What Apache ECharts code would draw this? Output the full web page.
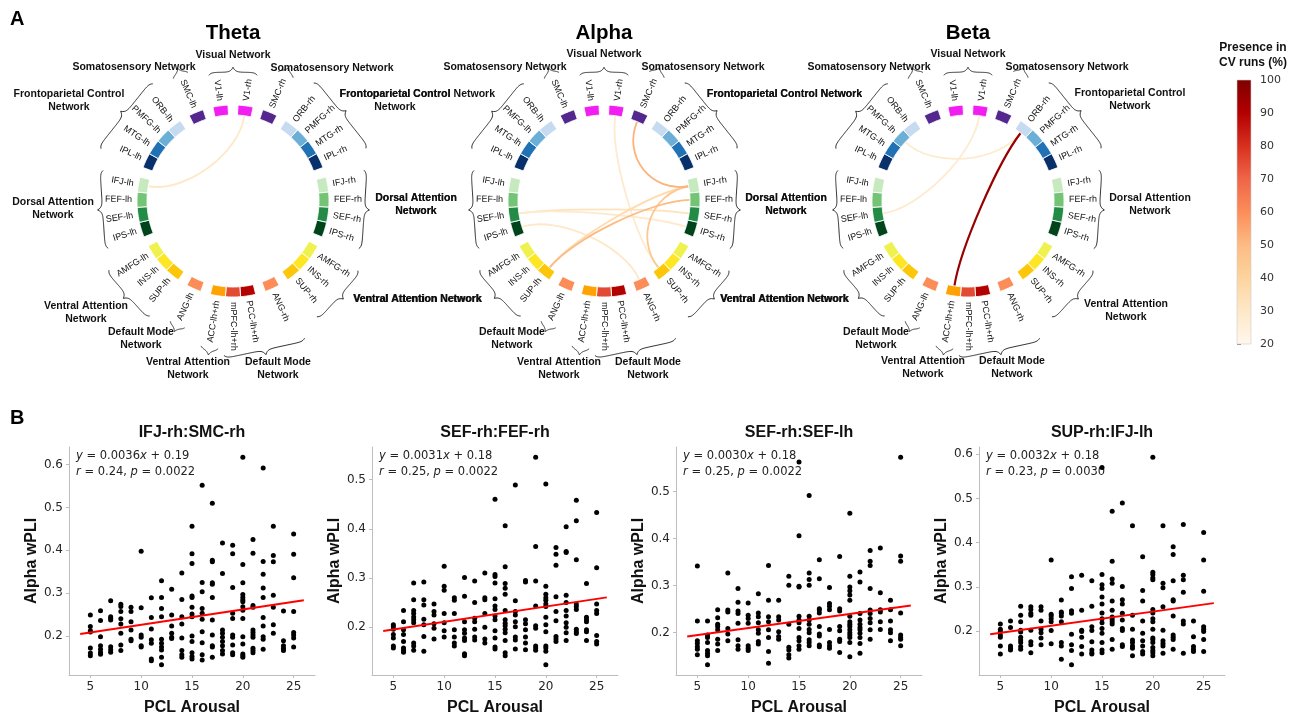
<!DOCTYPE html>
<html>
<head>
<meta charset="utf-8">
<script src="https://cdn.jsdelivr.net/npm/echarts@6/dist/echarts.min.js"></script>
<style>
  html, body { margin: 0; padding: 0; background: #fff; }
  #chart { width: 1301px; height: 718px; }
</style>
</head>
<body>
<div id="chart"></div>
<script>
// ---------------- Connectivity circles (panel A) ----------------
// Nodes clockwise from the top, split into hemisphere/network blocks.
const nodeBlocks = [
  ['V1-rh'], ['SMC-rh'],
  ['ORB-rh', 'PMFG-rh', 'MTG-rh', 'IPL-rh'],
  ['IFJ-rh', 'FEF-rh', 'SEF-rh', 'IPS-rh'],
  ['AMFG-rh', 'INS-rh', 'SUP-rh'],
  ['ANG-rh'],
  ['PCC-lh+rh', 'mPFC-lh+rh', 'ACC-lh+rh'],
  ['ANG-lh'],
  ['SUP-lh', 'INS-lh', 'AMFG-lh'],
  ['IPS-lh', 'SEF-lh', 'FEF-lh', 'IFJ-lh'],
  ['IPL-lh', 'MTG-lh', 'PMFG-lh', 'ORB-lh'],
  ['SMC-lh'], ['V1-lh']
];

const nodeColors = {
  'V1': '#f01ef0', 'SMC': '#54278f',
  'ORB': '#c6dbef', 'PMFG': '#6baed6', 'MTG': '#2171b5', 'IPL': '#08306b',
  'IFJ': '#c7e9c0', 'FEF': '#74c476', 'SEF': '#238b45', 'IPS': '#00441b',
  'AMFG': '#eef14e', 'INS': '#fde725', 'SUP': '#fcc70a',
  'ANG': '#fc8d59', 'ACC': '#ffa303', 'mPFC': '#e34a33', 'PCC': '#b30000'
};

// Bracketed networks, clockwise from the top
const networkNames = [
  'Visual Network', 'Somatosensory Network', 'Frontoparietal Control Network',
  'Dorsal Attention Network', 'Ventral Attention Network', 'Default Mode Network',
  'Ventral Attention Network', 'Default Mode Network', 'Ventral Attention Network',
  'Dorsal Attention Network', 'Frontoparietal Control Network', 'Somatosensory Network'
];
const networkMembers = [
  ['V1-lh', 'V1-rh'], ['SMC-rh'],
  ['ORB-rh', 'PMFG-rh', 'MTG-rh', 'IPL-rh'],
  ['IFJ-rh', 'FEF-rh', 'SEF-rh', 'IPS-rh'],
  ['AMFG-rh', 'INS-rh', 'SUP-rh'],
  ['ANG-rh', 'PCC-lh+rh', 'mPFC-lh+rh'],
  ['ACC-lh+rh'], ['ANG-lh'],
  ['SUP-lh', 'INS-lh', 'AMFG-lh'],
  ['IPS-lh', 'SEF-lh', 'FEF-lh', 'IFJ-lh'],
  ['IPL-lh', 'MTG-lh', 'PMFG-lh', 'ORB-lh'],
  ['SMC-lh']
];

const bandNames = ['Theta', 'Alpha', 'Beta'];

// Edges: [node, node, presence in CV runs (%)]
const edgesTheta = [
  ['V1-rh', 'IFJ-lh', 30]
];
const edgesAlpha = [
  ['V1-rh', 'SUP-rh', 28],
  ['IPS-lh', 'ANG-rh', 30],
  ['SEF-lh', 'SEF-rh', 33],
  ['SEF-lh', 'IPS-rh', 28],
  ['IFJ-rh', 'SUP-lh', 36],
  ['IFJ-rh', 'SUP-rh', 45],
  ['FEF-rh', 'SUP-lh', 50],
  ['SMC-rh', 'IFJ-rh', 52]
];
const edgesBeta = [
  ['V1-rh', 'SEF-lh', 28],
  ['ORB-rh', 'PMFG-lh', 28],
  ['ORB-rh', 'ACC-lh+rh', 95]
];

// Colour scale (OrRd) and its ticks
const presenceScale = ['#fff7ec', '#fee8c8', '#fdd49e', '#fdbb84', '#fc8d59', '#ef6548', '#d7301f', '#b30000', '#7f0000'];
const presenceRange = [20, 100];
const presenceTicks = [20, 30, 40, 50, 60, 70, 80, 90, 100];

// ---------------- Scatter plots (panel B) ----------------
const pclArousal = [5, 6, 7, 8, 9, 10, 11, 12, 13, 14, 15, 16, 17, 18, 19, 20, 21, 22, 23, 24, 25];

const wpliIfjRhSmcRh = [
  [0.249, 0.222, 0.212, 0.209, 0.172, 0.160, 0.154],
  [0.259, 0.236, 0.198, 0.177, 0.169, 0.162, 0.157],
  [0.282, 0.245, 0.241, 0.237, 0.175, 0.168, 0.162],
  [0.274, 0.269, 0.257, 0.240, 0.228, 0.206, 0.179, 0.166],
  [0.267, 0.257, 0.233, 0.214, 0.192, 0.189],
  [0.398, 0.266, 0.202, 0.197, 0.177, 0.174],
  [0.289, 0.243, 0.216, 0.191, 0.183, 0.146, 0.142],
  [0.329, 0.290, 0.264, 0.245, 0.192, 0.183, 0.174, 0.167, 0.150, 0.133],
  [0.309, 0.249, 0.223, 0.206, 0.197, 0.194],
  [0.347, 0.285, 0.245, 0.228, 0.195, 0.166, 0.156, 0.150],
  [0.456, 0.392, 0.369, 0.293, 0.290, 0.267, 0.251, 0.245, 0.200, 0.187, 0.161, 0.152, 0.146],
  [0.552, 0.325, 0.303, 0.264, 0.253, 0.239, 0.210, 0.184, 0.156, 0.144],
  [0.510, 0.377, 0.373, 0.324, 0.321, 0.290, 0.237, 0.202, 0.177, 0.174, 0.150],
  [0.417, 0.346, 0.214, 0.206, 0.197, 0.187, 0.177, 0.166, 0.158],
  [0.412, 0.392, 0.313, 0.253, 0.241, 0.202, 0.197, 0.179, 0.161, 0.156],
  [0.617, 0.367, 0.324, 0.297, 0.290, 0.284, 0.280, 0.268, 0.260, 0.241, 0.198, 0.181, 0.158, 0.154, 0.150],
  [0.425, 0.393, 0.271, 0.267, 0.214, 0.208, 0.202, 0.197, 0.171, 0.166, 0.161],
  [0.592, 0.374, 0.344, 0.312, 0.290, 0.243, 0.223, 0.198, 0.192, 0.169],
  [0.456, 0.388, 0.373, 0.295, 0.267, 0.226, 0.206],
  [0.258, 0.189, 0.177, 0.171, 0.166],
  [0.438, 0.391, 0.336, 0.257, 0.208, 0.202, 0.195, 0.174]
];

const wpliSefRhFefRh = [
  [0.205, 0.201, 0.196, 0.185, 0.178, 0.162, 0.158],
  [0.234, 0.211, 0.195, 0.185, 0.171, 0.158, 0.153, 0.149],
  [0.290, 0.256, 0.234, 0.228, 0.221, 0.215, 0.209, 0.168, 0.162, 0.153],
  [0.292, 0.256, 0.245, 0.216, 0.205, 0.181, 0.151],
  [0.247, 0.232, 0.225, 0.207, 0.198, 0.176],
  [0.324, 0.283, 0.275, 0.228, 0.209, 0.193, 0.180],
  [0.260, 0.255, 0.228, 0.195, 0.180, 0.168, 0.162],
  [0.301, 0.263, 0.211, 0.195, 0.188, 0.178, 0.173, 0.146, 0.142],
  [0.294, 0.250, 0.218, 0.211, 0.196, 0.180, 0.174],
  [0.310, 0.260, 0.256, 0.228, 0.200, 0.176, 0.168],
  [0.460, 0.307, 0.303, 0.290, 0.258, 0.243, 0.236, 0.223, 0.215, 0.193, 0.178, 0.160, 0.156],
  [0.406, 0.323, 0.289, 0.279, 0.267, 0.234, 0.215, 0.208, 0.203, 0.196, 0.189, 0.173, 0.148, 0.142],
  [0.489, 0.254, 0.232, 0.225, 0.211, 0.201, 0.180, 0.174, 0.156],
  [0.295, 0.292, 0.215, 0.207, 0.195, 0.180, 0.168, 0.154],
  [0.545, 0.364, 0.294, 0.243, 0.203, 0.198, 0.162, 0.158, 0.153],
  [0.491, 0.283, 0.267, 0.260, 0.255, 0.247, 0.242, 0.220, 0.205, 0.191, 0.162, 0.158, 0.151, 0.124],
  [0.362, 0.348, 0.326, 0.262, 0.232, 0.213, 0.181, 0.176, 0.171],
  [0.404, 0.354, 0.352, 0.265, 0.250, 0.234, 0.223, 0.209, 0.200, 0.189, 0.173],
  [0.458, 0.416, 0.337, 0.247, 0.242, 0.236, 0.196, 0.191, 0.187],
  [0.289, 0.220, 0.215, 0.211, 0.195, 0.191, 0.173],
  [0.433, 0.321, 0.247, 0.234, 0.228, 0.183, 0.171, 0.166]
];

const wpliSefRhSefLh = [
  [0.342, 0.225, 0.183, 0.177, 0.170, 0.165, 0.153],
  [0.225, 0.195, 0.190, 0.179, 0.162, 0.156, 0.151, 0.132],
  [0.249, 0.232, 0.218, 0.213, 0.206, 0.186, 0.176, 0.162],
  [0.327, 0.248, 0.244, 0.209, 0.197, 0.183],
  [0.294, 0.265, 0.246, 0.241, 0.220, 0.185, 0.172, 0.165],
  [0.263, 0.237, 0.230, 0.220, 0.172, 0.167, 0.162],
  [0.283, 0.242, 0.234, 0.221, 0.206, 0.199, 0.181, 0.176],
  [0.343, 0.269, 0.234, 0.223, 0.206, 0.190, 0.160, 0.135],
  [0.269, 0.234, 0.227, 0.202, 0.192, 0.186],
  [0.320, 0.301, 0.218, 0.169, 0.163, 0.153, 0.146],
  [0.563, 0.406, 0.299, 0.297, 0.235, 0.227, 0.221, 0.209, 0.190, 0.183, 0.172, 0.165],
  [0.492, 0.327, 0.313, 0.301, 0.235, 0.227, 0.218, 0.207, 0.200, 0.185, 0.179, 0.172],
  [0.355, 0.315, 0.251, 0.248, 0.242, 0.213, 0.197, 0.193, 0.174, 0.170],
  [0.296, 0.262, 0.256, 0.249, 0.207, 0.179, 0.172, 0.167],
  [0.362, 0.251, 0.246, 0.213, 0.204, 0.186, 0.181, 0.158],
  [0.454, 0.320, 0.297, 0.289, 0.280, 0.269, 0.235, 0.223, 0.218, 0.213, 0.206, 0.200, 0.195, 0.190, 0.179, 0.149],
  [0.329, 0.308, 0.241, 0.227, 0.218, 0.211, 0.206, 0.199, 0.190, 0.177, 0.156],
  [0.375, 0.352, 0.343, 0.294, 0.248, 0.241, 0.230, 0.221, 0.206, 0.186],
  [0.380, 0.285, 0.249, 0.244, 0.223, 0.207],
  [0.269, 0.249, 0.225, 0.206, 0.200, 0.183],
  [0.573, 0.363, 0.352, 0.242, 0.195, 0.190, 0.186, 0.172]
];

const wpliSupRhIfjLh = [
  [0.216, 0.204, 0.199, 0.191, 0.186, 0.166, 0.148],
  [0.223, 0.208, 0.166, 0.161, 0.157],
  [0.256, 0.236, 0.221, 0.202, 0.198, 0.186, 0.180, 0.174, 0.165, 0.159],
  [0.255, 0.249, 0.240, 0.236, 0.202, 0.176, 0.169, 0.151],
  [0.255, 0.247, 0.223, 0.204, 0.196, 0.184, 0.169],
  [0.361, 0.238, 0.234, 0.228, 0.221, 0.201, 0.171],
  [0.270, 0.243, 0.240, 0.234, 0.221, 0.174, 0.166, 0.136],
  [0.323, 0.296, 0.246, 0.240, 0.193, 0.169, 0.156, 0.124],
  [0.326, 0.247, 0.202, 0.199, 0.186, 0.165, 0.148],
  [0.314, 0.256, 0.210, 0.201, 0.176, 0.157, 0.151, 0.148],
  [0.570, 0.328, 0.305, 0.296, 0.277, 0.261, 0.241, 0.228, 0.219, 0.206, 0.195, 0.174, 0.157, 0.151],
  [0.471, 0.358, 0.318, 0.308, 0.268, 0.247, 0.232, 0.226, 0.221, 0.216, 0.181, 0.159],
  [0.490, 0.301, 0.271, 0.261, 0.240, 0.225, 0.206, 0.201, 0.169, 0.165],
  [0.438, 0.236, 0.204, 0.180, 0.174, 0.166, 0.161, 0.144],
  [0.368, 0.292, 0.268, 0.223, 0.195, 0.178, 0.166, 0.154, 0.148],
  [0.593, 0.333, 0.328, 0.320, 0.316, 0.249, 0.241, 0.228, 0.221, 0.204, 0.184, 0.181, 0.174, 0.163, 0.156, 0.151, 0.144],
  [0.438, 0.308, 0.298, 0.255, 0.202, 0.178, 0.172, 0.166, 0.150],
  [0.391, 0.373, 0.314, 0.271, 0.268, 0.234, 0.191, 0.186, 0.181, 0.159],
  [0.441, 0.326, 0.316, 0.288, 0.223, 0.216, 0.150],
  [0.223, 0.187, 0.165, 0.159, 0.154],
  [0.423, 0.361, 0.290, 0.210, 0.204, 0.199, 0.181, 0.154]
];

const pairTitles = ['IFJ-rh:SMC-rh', 'SEF-rh:FEF-rh', 'SEF-rh:SEF-lh', 'SUP-rh:IFJ-lh'];
const fitSlopes = [0.0036, 0.0031, 0.0030, 0.0032];
const fitIntercepts = [0.19, 0.18, 0.18, 0.18];
const fitR = [0.24, 0.25, 0.25, 0.23];
const fitP = [0.0022, 0.0022, 0.0022, 0.0030];
const fitXRange = [4, 26];
const xTickValues = [5, 10, 15, 20, 25];
const yTickValues = [
  [0.2, 0.3, 0.4, 0.5, 0.6],
  [0.2, 0.3, 0.4, 0.5],
  [0.2, 0.3, 0.4, 0.5],
  [0.2, 0.3, 0.4, 0.5, 0.6]
];

// ================= drawing =================
const FONT = '"Liberation Sans", Arial, Helvetica, sans-serif';
const MPL_FONT = '"DejaVu Sans", Verdana, sans-serif';
const NODE_FONT = '9px ' + FONT;
const NET_FONT = 'bold 10.5px ' + FONT;

// circle geometry (px)
const CIRCLE_CENTERS = [[233, 201], [604, 201], [968, 201]];
const R_IN = 86, R_OUT = 96, R_LABEL = 101, R_CTRL = 48;
const GAP = 6;
const nodeCount = nodeBlocks.reduce((s, b) => s + b.length, 0);
const NODE_W = (360 - nodeBlocks.length * GAP) / nodeCount;

const nodes = [];
const nodeByName = {};
(function layoutNodes() {
  let a = GAP / 2;
  nodeBlocks.forEach(block => {
    block.forEach(name => {
      const n = { name, a0: a, a1: a + NODE_W, color: nodeColors[name.split('-')[0]] };
      nodes.push(n);
      nodeByName[name] = n;
      a += NODE_W;
    });
    a += GAP;
  });
})();

const measureCtx = document.createElement('canvas').getContext('2d');
function textWidth(t, font) {
  measureCtx.font = font;
  return measureCtx.measureText(t).width;
}
const norm = a => ((a % 360) + 360) % 360;

function presenceColor(v) {
  const t = (v - presenceRange[0]) / (presenceRange[1] - presenceRange[0]);
  return echarts.color.lerp(Math.max(0, Math.min(1, t)), presenceScale);
}

// Network label placement per circle: [wrapped, dx, dy, align] from the circle centre
const netLabelLayout = [
  [[0, 0, -146, 'center'], [0, 99, -133, 'center'], [1, 162, -100, 'center'], [1, 183, 4, 'center'],
   [0, 120, 98, 'left'], [1, 45, 168, 'center'], [1, -45, 168, 'center'], [1, -92, 138, 'center'],
   [1, -147, 112, 'center'], [1, -180, 8, 'center'], [1, -164, -100, 'center'], [0, -99, -134, 'center']],
  [[0, 0, -147, 'center'], [0, 99, -134, 'center'], [0, 103, -107, 'left'], [1, 182, 4, 'center'],
   [0, 116, 98, 'left'], [1, 44, 168, 'center'], [1, -45, 168, 'center'], [1, -92, 138, 'center'],
   [0, -122, 98, 'right'], [1, -188, 4, 'center'], [0, -109, -107, 'right'], [0, -99, -134, 'center']],
  [[0, 0, -147, 'center'], [0, 99, -134, 'center'], [1, 162, -101, 'center'], [1, 182, 4, 'center'],
   [1, 158, 110, 'center'], [1, 44, 167, 'center'], [1, -45, 167, 'center'], [1, -92, 138, 'center'],
   [0, -119, 98, 'right'], [1, -182, 4, 'center'], [0, -106, -107, 'right'], [0, -99, -134, 'center']]
];

function wrapName(name) {
  const w = name.split(' ');
  return w.slice(0, w.length - 1).join(' ') + '\n' + w[w.length - 1];
}

function pointFn(api) {
  return (r, a) => api.coord([r, norm(a)]);
}

function renderNode(params, api) {
  const n = nodes[params.dataIndex];
  const P = pointFn(api);
  const pts = [];
  const steps = 10;
  for (let k = 0; k <= steps; k++) pts.push(P(R_OUT, n.a0 + (n.a1 - n.a0) * k / steps));
  for (let k = steps; k >= 0; k--) pts.push(P(R_IN, n.a0 + (n.a1 - n.a0) * k / steps));
  const mid = norm((n.a0 + n.a1) / 2);
  const right = mid <= 180.01;
  const rot = (right ? 90 - mid : 270 - mid) * Math.PI / 180;
  const pos = P(R_LABEL, mid);
  return {
    type: 'group',
    children: [
      { type: 'polygon', shape: { points: pts }, style: { fill: n.color, stroke: '#ffffff', lineWidth: 0.9 } },
      { type: 'text', x: pos[0], y: pos[1], rotation: rot,
        style: { text: n.name, align: right ? 'left' : 'right', verticalAlign: 'middle', font: NODE_FONT, fill: '#111' } }
    ]
  };
}

function makeEdgeRenderer(edges) {
  return function (params, api) {
    const e = edges[params.dataIndex];
    const P = pointFn(api);
    const na = nodeByName[e[0]], nb = nodeByName[e[1]];
    const a = (na.a0 + na.a1) / 2, b = (nb.a0 + nb.a1) / 2;
    const p0 = P(R_IN, a), c0 = P(R_CTRL, a), c1 = P(R_CTRL, b), p1 = P(R_IN, b);
    return {
      type: 'bezierCurve',
      shape: { x1: p0[0], y1: p0[1], x2: p1[0], y2: p1[1], cpx1: c0[0], cpy1: c0[1], cpx2: c1[0], cpy2: c1[1] },
      style: { stroke: presenceColor(e[2]), lineWidth: e[2] > 80 ? 2.2 : 1.8, fill: 'none' }
    };
  };
}

function makeBraceRenderer(panel) {
  return function (params, api) {
    const i = params.dataIndex;
    const members = networkMembers[i];
    const P = pointFn(api);
    const C = api.coord([0, 0]);
    const first = nodeByName[members[0]], last = nodeByName[members[members.length - 1]];
    const a0 = first.a0 + 1.2;
    let a1 = last.a1 - 1.2;
    if (a1 < a0) a1 += 360;
    const R = R_LABEL + Math.max(...members.map(m => textWidth(m, NODE_FONT))) + 5;
    const A = P(R, a0), B = P(R, a1);
    const mid = P(R, (a0 + a1) / 2);
    let nx = mid[0] - C[0], ny = mid[1] - C[1];
    const nl = Math.hypot(nx, ny); nx /= nl; ny /= nl;
    const L = Math.hypot(B[0] - A[0], B[1] - A[1]);
    const pts = [];
    const K = 80, lam = 2.4, rise = 3, tip = 5;
    for (let k = 0; k <= K; k++) {
      const s = k / K;
      const d = Math.min(s, 1 - s) * L, dm = Math.abs(s - 0.5) * L;
      const f = rise * (1 - Math.exp(-d / lam)) + tip * Math.exp(-dm / lam);
      pts.push([A[0] + s * (B[0] - A[0]) + nx * f, A[1] + s * (B[1] - A[1]) + ny * f]);
    }
    const lay = netLabelLayout[panel][i];
    const text = lay[0] ? wrapName(networkNames[i]) : networkNames[i];
    return {
      type: 'group',
      children: [
        { type: 'polyline', shape: { points: pts }, style: { stroke: '#1a1a1a', lineWidth: 0.9, fill: 'none' } },
        { type: 'text', x: C[0] + lay[1], y: C[1] + lay[2],
          style: { text, align: lay[3], verticalAlign: 'middle', font: NET_FONT, lineHeight: 13, fill: '#111' } }
      ]
    };
  };
}

const polar = CIRCLE_CENTERS.map(c => ({ center: c, radius: R_OUT }));
const angleAxis = CIRCLE_CENTERS.map((c, i) => ({ polarIndex: i, type: 'value', min: 0, max: 360, startAngle: 90, clockwise: true, show: false }));
const radiusAxis = CIRCLE_CENTERS.map((c, i) => ({ polarIndex: i, type: 'value', min: 0, max: R_OUT, show: false }));

const series = [];
[edgesTheta, edgesAlpha, edgesBeta].forEach((edges, p) => {
  series.push({
    type: 'custom', coordinateSystem: 'polar', polarIndex: p, z: 1, silent: true,
    data: edges.map((e, k) => [k, 0]), renderItem: makeEdgeRenderer(edges)
  });
  series.push({
    type: 'custom', coordinateSystem: 'polar', polarIndex: p, z: 2, silent: true,
    data: nodes.map((n, k) => [k, 0]), renderItem: renderNode
  });
  series.push({
    type: 'custom', coordinateSystem: 'polar', polarIndex: p, z: 2, silent: true,
    data: networkMembers.map((m, k) => [k, 0]), renderItem: makeBraceRenderer(p)
  });
});

// ---------------- colour bar ----------------
const CB = { left: 1237, top: 80, width: 14, height: 264 };
const grids = [];
const xAxes = [];
const yAxes = [];

// ---------------- scatter grids ----------------
const GRID_LEFTS = [69, 372, 676, 979];
const GRID_TOP = 447, GRID_W = 246, GRID_H = 228;
const Y_NAME_GAPS = [29, 24, 28, 29];
const scatterSets = [wpliIfjRhSmcRh, wpliSefRhFefRh, wpliSefRhSefLh, wpliSupRhIfjLh];
const AXIS_GREY = '#bdbdbd';
const graphics = [];

scatterSets.forEach((cols, i) => {
  const pts = [];
  cols.forEach((vals, c) => vals.forEach(v => pts.push([pclArousal[c], v])));
  const fit = fitXRange.map(x => [x, fitSlopes[i] * x + fitIntercepts[i]]);
  const ys = pts.map(p => p[1]).concat(fit.map(f => f[1]));
  const yLo = Math.min(...ys), yHi = Math.max(...ys);
  const xs = pts.map(p => p[0]).concat(fitXRange);
  const xLo = Math.min(...xs), xHi = Math.max(...xs);
  const ym = (yHi - yLo) * 0.05, xm = (xHi - xLo) * 0.05;

  grids.push({ left: GRID_LEFTS[i], top: GRID_TOP, width: GRID_W, height: GRID_H });
  xAxes.push({
    gridIndex: i, type: 'value', min: xLo - xm, max: xHi + xm,
    name: 'PCL Arousal', nameLocation: 'middle', nameGap: 25,
    nameTextStyle: { fontFamily: FONT, fontWeight: 'bold', fontSize: 16, color: '#111' },
    axisLine: { lineStyle: { color: AXIS_GREY, width: 1 } },
    axisTick: { show: true, length: 3, lineStyle: { color: AXIS_GREY }, customValues: xTickValues },
    axisLabel: { customValues: xTickValues, fontFamily: MPL_FONT, fontSize: 12, color: '#262626', margin: 6 },
    splitLine: { show: false }
  });
  yAxes.push({
    gridIndex: i, type: 'value', min: yLo - ym, max: yHi + ym,
    name: 'Alpha wPLI', nameLocation: 'middle', nameGap: Y_NAME_GAPS[i], nameRotate: 90,
    nameTextStyle: { fontFamily: FONT, fontWeight: 'bold', fontSize: 16, color: '#111' },
    axisLine: { show: true, lineStyle: { color: AXIS_GREY, width: 1 } },
    axisTick: { show: true, length: 3, lineStyle: { color: AXIS_GREY }, customValues: yTickValues[i] },
    axisLabel: { customValues: yTickValues[i], formatter: v => v.toFixed(1), fontFamily: MPL_FONT, fontSize: 12, color: '#262626', margin: 6 },
    splitLine: { show: false }
  });
  series.push({
    type: 'scatter', xAxisIndex: i, yAxisIndex: i, data: pts, symbolSize: 5, silent: true,
    itemStyle: { color: '#000', opacity: 1 }, z: 2
  });
  series.push({
    type: 'line', xAxisIndex: i, yAxisIndex: i, data: fit, showSymbol: false, silent: true,
    lineStyle: { color: '#ff0000', width: 2 }, z: 3
  });

  const gx = GRID_LEFTS[i];
  graphics.push({ type: 'text', x: gx + GRID_W / 2, y: 433,
    style: { text: pairTitles[i], align: 'center', verticalAlign: 'middle', font: 'bold 16px ' + FONT, fill: '#111' } });
  const rich = { i: { fontStyle: 'italic', fontFamily: MPL_FONT, fontSize: 11.5, fill: '#222' } };
  graphics.push({ type: 'text', x: gx + 7, y: 456,
    style: { text: '{i|y} = ' + fitSlopes[i].toFixed(4) + '{i|x} + ' + fitIntercepts[i].toFixed(2),
      rich, align: 'left', verticalAlign: 'middle', fontFamily: MPL_FONT, fontSize: 11.5, fill: '#222' } });
  graphics.push({ type: 'text', x: gx + 7, y: 472,
    style: { text: '{i|r} = ' + fitR[i].toFixed(2) + ', {i|p} = ' + fitP[i].toFixed(4),
      rich, align: 'left', verticalAlign: 'middle', fontFamily: MPL_FONT, fontSize: 11.5, fill: '#222' } });
});

// colour bar grid (index 4)
grids.push({ left: CB.left, top: CB.top, width: CB.width, height: CB.height });
xAxes.push({ gridIndex: 4, type: 'value', min: 0, max: 1, show: false });
yAxes.push({
  gridIndex: 4, type: 'value', position: 'right', min: presenceRange[0], max: presenceRange[1], interval: 10,
  axisLine: { show: false },
  axisTick: { show: true, length: 4, lineStyle: { color: '#888' }, customValues: presenceTicks },
  axisLabel: { customValues: presenceTicks, fontFamily: MPL_FONT, fontSize: 11, color: '#333', margin: 9 },
  splitLine: { show: false }
});
series.push({
  type: 'custom', xAxisIndex: 4, yAxisIndex: 4, silent: true,
  data: [[0, presenceRange[0], presenceRange[1]]],
  renderItem: function (params, api) {
    const p0 = api.coord([0, api.value(1)]);
    const p1 = api.coord([1, api.value(2)]);
    const stops = presenceScale.map((c, k) => ({ offset: k / (presenceScale.length - 1), color: c }));
    return {
      type: 'rect',
      shape: { x: p0[0], y: p1[1], width: p1[0] - p0[0], height: p0[1] - p1[1] },
      style: { fill: new echarts.graphic.LinearGradient(0, 1, 0, 0, stops), stroke: '#cccccc', lineWidth: 0.6 }
    };
  }
});

// titles and panel letters
bandNames.forEach((b, k) => {
  graphics.push({ type: 'text', x: CIRCLE_CENTERS[k][0], y: 33,
    style: { text: b, align: 'center', verticalAlign: 'middle', font: 'bold 20.5px ' + FONT, fill: '#000' } });
});
graphics.push({ type: 'text', x: 10, y: 19, style: { text: 'A', align: 'left', verticalAlign: 'middle', font: 'bold 20px ' + FONT, fill: '#000' } });
graphics.push({ type: 'text', x: 10, y: 418, style: { text: 'B', align: 'left', verticalAlign: 'middle', font: 'bold 20px ' + FONT, fill: '#000' } });
graphics.push({ type: 'text', x: 1253, y: 55,
  style: { text: 'Presence in\nCV runs (%)', align: 'center', verticalAlign: 'middle', font: 'bold 12px ' + FONT, lineHeight: 15, fill: '#111' } });

const chart = echarts.init(document.getElementById('chart'), null, { renderer: 'canvas' });
chart.setOption({
  backgroundColor: '#ffffff',
  animation: false,
  polar, angleAxis, radiusAxis,
  grid: grids, xAxis: xAxes, yAxis: yAxes,
  series,
  graphic: graphics
});
</script>
</body>
</html>
